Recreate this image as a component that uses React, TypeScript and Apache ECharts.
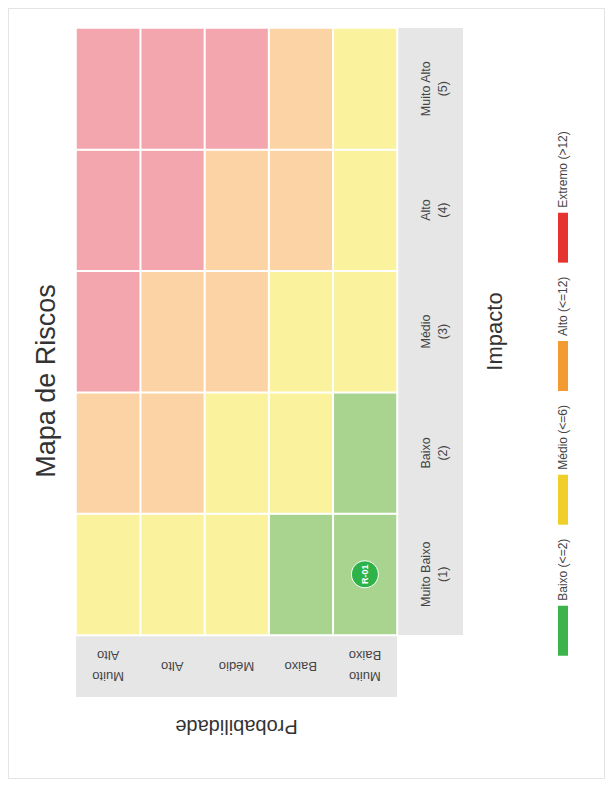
import React, { useEffect, useRef } from 'react';
import * as echarts from 'echarts';

// Axis categories
const impactLabels = ['Muito Baixo\n(1)', 'Baixo\n(2)', 'Médio\n(3)', 'Alto\n(4)', 'Muito Alto\n(5)'];
const probLabels = ['Muito\nBaixo', 'Baixo', 'Médio', 'Alto', 'Muito\nAlto'];

// Risk score per cell: rows = probability (Muito Baixo..Muito Alto), cols = impact (Muito Baixo..Muito Alto)
const scores = [
  [1, 2, 3, 4, 5],
  [2, 4, 6, 8, 10],
  [3, 6, 9, 12, 15],
  [4, 8, 12, 16, 20],
  [5, 10, 15, 20, 25],
];

// Risk levels
const levelNames = ['Baixo (<=2)', 'Médio (<=6)', 'Alto (<=12)', 'Extremo (>12)'];
const levelUpper = [2, 6, 12];
const legendColors = ['#3cb44b', '#f0cf2a', '#f39a32', '#e5332f'];
const cellColors = ['#a8d490', '#faf29c', '#fcd3a4', '#f4a6af'];

// Plotted risks: impact index, probability index
const riskIds = ['R-01'];
const riskImpact = [0];
const riskProb = [0];

const W = 771;
const H = 597;

export default function App() {
  const ref = useRef<HTMLDivElement>(null);

  useEffect(() => {
    if (!ref.current) return;
    const chart = echarts.init(ref.current, undefined, { renderer: 'svg' });

    const heatData: number[][] = [];
    scores.forEach((row, p) => row.forEach((v, i) => heatData.push([i, p, v])));

    const pieces = [
      { lte: levelUpper[0], color: cellColors[0] },
      { gt: levelUpper[0], lte: levelUpper[1], color: cellColors[1] },
      { gt: levelUpper[1], lte: levelUpper[2], color: cellColors[2] },
      { gt: levelUpper[2], color: cellColors[3] },
    ];

    const gridLeft = 144;
    const gridRight = 20;
    const gridTop = 68;
    const gridBottom = 208;
    const gridW = W - gridLeft - gridRight;
    const gridH = H - gridTop - gridBottom;

    chart.setOption({
      animation: false,
      textStyle: { fontFamily: 'sans-serif' },
      title: {
        text: 'Mapa de Riscos',
        left: 398,
        top: 24,
        textAlign: 'center',
        padding: 0,
        textStyle: { fontSize: 27, fontWeight: 'normal', color: '#333' },
      },
      grid: { left: gridLeft, right: gridRight, top: gridTop, bottom: gridBottom },
      graphic: [
        {
          type: 'rect',
          z: -1,
          shape: { x: gridLeft, y: gridTop + gridH, width: gridW, height: 66 },
          style: { fill: '#e6e6e6' },
        },
        {
          type: 'rect',
          z: -1,
          shape: { x: gridLeft - 62, y: gridTop, width: 62, height: gridH },
          style: { fill: '#e6e6e6' },
        },
      ],
      xAxis: {
        type: 'category',
        data: impactLabels,
        axisLine: { show: false },
        axisTick: { show: false },
        splitLine: { show: false },
        axisLabel: { margin: 20, fontSize: 12.5, lineHeight: 17, color: '#444' },
        name: 'Impacto',
        nameLocation: 'middle',
        nameGap: 86,
        nameTextStyle: { fontSize: 22, color: '#333' },
      },
      yAxis: {
        type: 'category',
        data: probLabels,
        axisLine: { show: false },
        axisTick: { show: false },
        splitLine: { show: false },
        axisLabel: {
          rotate: 90,
          margin: 31,
          align: 'center',
          verticalAlign: 'middle',
          fontSize: 13,
          lineHeight: 21,
          color: '#444',
        },
        name: 'Probabilidade',
        nameLocation: 'middle',
        nameGap: 82,
        nameTextStyle: { fontSize: 20, color: '#333' },
      },
      visualMap: {
        type: 'piecewise',
        show: false,
        seriesIndex: 0,
        dimension: 2,
        pieces,
      },
      legend: {
        data: levelNames,
        left: 'center',
        top: 549,
        padding: 0,
        icon: 'rect',
        itemWidth: 50,
        itemHeight: 10,
        itemGap: 14,
        selectedMode: false,
        textStyle: { fontSize: 12, color: '#444' },
      },
      series: [
        {
          type: 'heatmap',
          data: heatData,
          itemStyle: { borderColor: '#ffffff', borderWidth: 2 },
          label: { show: false },
          emphasis: { disabled: true },
        },
        {
          type: 'scatter',
          data: riskIds.map((id, k) => [riskImpact[k], riskProb[k], id]),
          symbolSize: 27,
          z: 5,
          itemStyle: { color: '#2db34a', borderColor: '#ffffff', borderWidth: 1, opacity: 1 },
          label: {
            show: true,
            position: 'inside',
            formatter: (p: any) => p.value[2],
            color: '#ffffff',
            fontSize: 9,
            fontWeight: 'bold',
          },
        },
        ...levelNames.map((name, i) => ({
          name,
          type: 'scatter',
          data: [],
          itemStyle: { color: legendColors[i], opacity: 1 },
        })),
      ],
    });

    return () => chart.dispose();
  }, []);

  return (
    <div style={{ position: 'relative', width: H, height: W, overflow: 'hidden', background: '#fff' }}>
      <div
        ref={ref}
        style={{
          position: 'absolute',
          left: 0,
          top: 0,
          width: W,
          height: H,
          transformOrigin: '0 0',
          transform: `translateY(${W}px) rotate(-90deg)`,
        }}
      />
      <div
        style={{
          position: 'absolute',
          left: 0,
          top: 0,
          right: 0,
          bottom: 0,
          border: '1px solid #e4e4e4',
          pointerEvents: 'none',
        }}
      />
    </div>
  );
}
